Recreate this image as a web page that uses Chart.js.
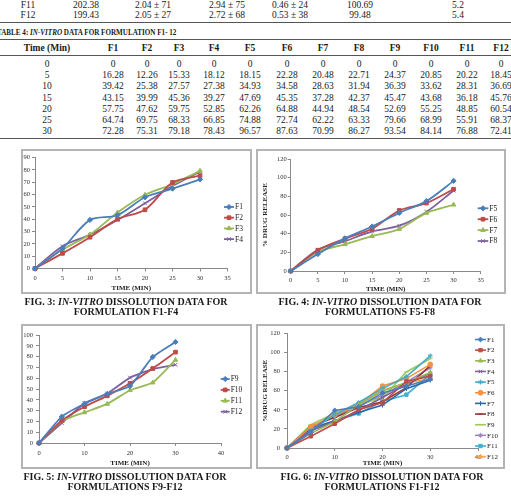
<!DOCTYPE html>
<html><head><meta charset="utf-8">
<script src="https://cdn.jsdelivr.net/npm/chart.js@4/dist/chart.umd.min.js"></script>
<style>
html,body{margin:0;padding:0;background:#fff;width:511px;height:500px;overflow:hidden;}
body{position:relative;font-family:"Liberation Serif","Times New Roman",serif;color:#1a1a1a;}
.t{position:absolute;white-space:nowrap;line-height:10px;height:10px;font-size:9.5px;transform:translateX(-50%);}
.b{font-weight:bold;}
.hl{position:absolute;left:0;width:511px;height:1px;background:#555;}
.frame{position:absolute;border:2px solid #b4b4b4;box-sizing:border-box;pointer-events:none;}
canvas{position:absolute;}
.cap{position:absolute;font-weight:bold;font-size:10px;line-height:10px;white-space:nowrap;transform:translateX(-50%);}
.title{position:absolute;font-weight:bold;font-size:9px;line-height:10px;white-space:nowrap;transform-origin:0 50%;transform:scaleX(0.79);}
</style></head><body>
<script>
// ---------- data ----------
const prevRows = ['F11', 'F12'];
const prevAvgWeight = ['202.38', '199.43'];
const prevThickness = ['2.04 ± 71', '2.05 ± 27'];
const prevHardness = ['2.94 ± 75', '2.72 ± 68'];
const prevFriability = ['0.46 ± 24', '0.53 ± 38'];
const prevContent = ['100.69', '99.48'];
const prevDisint = ['5.2', '5.4'];

const formulations = ['F1','F2','F3','F4','F5','F6','F7','F8','F9','F10','F11','F12'];
const times = [0, 5, 10, 15, 20, 25, 30];
const F1 = [0, 16.28, 39.42, 43.15, 57.75, 64.74, 72.28];
const F2 = [0, 12.26, 25.38, 39.99, 47.62, 69.75, 75.31];
const F3 = [0, 15.33, 27.57, 45.36, 59.75, 68.33, 79.18];
const F4 = [0, 18.12, 27.38, 39.27, 52.85, 66.85, 78.43];
const F5 = [0, 18.15, 34.93, 47.69, 62.26, 74.88, 96.57];
const F6 = [0, 22.28, 34.58, 45.35, 64.88, 72.74, 87.63];
const F7 = [0, 20.48, 28.63, 37.28, 44.94, 62.22, 70.99];
const F8 = [0, 22.71, 31.94, 42.37, 48.54, 63.33, 86.27];
const F9 = [0, 24.37, 36.39, 45.47, 52.69, 79.66, 93.54];
const F10 = [0, 20.85, 33.62, 43.68, 55.25, 68.99, 84.14];
const F11 = [0, 20.22, 28.31, 36.18, 48.85, 55.91, 76.88];
const F12 = [0, 18.45, 36.69, 45.76, 60.54, 68.37, 72.41];
const seriesValues = [F1, F2, F3, F4, F5, F6, F7, F8, F9, F10, F11, F12];

const xTitle = 'TIME (MIN)';
const yTitle2 = '% DRUG RELEASE';
const yTitle4 = '%DRUG RELEASE';
const captions = [
  ['FIG. 3: ', 'IN-VITRO', ' DISSOLUTION DATA FOR', 'FORMULATION F1-F4'],
  ['FIG. 4: ', 'IN-VITRO', ' DISSOLUTION DATA FOR', 'FORMULATIONS F5-F8'],
  ['FIG. 5: ', 'IN-VITRO', ' DISSOLUTION DATA FOR', 'FORMULATIONS F9-F12'],
  ['FIG. 6: ', 'IN-VITRO', ' DISSOLUTION DATA FOR', 'FORMULATIONS F1-F12']
];

// ---------- page text ----------
const body = document.body;
function addText(txt, cx, cy, cls) {
  const s = document.createElement('div');
  s.className = 't ' + (cls || '');
  s.style.left = cx + 'px';
  s.style.top = (cy - 5) + 'px';
  s.textContent = txt;
  body.appendChild(s);
}
function addLine(y) {
  const d = document.createElement('div');
  d.className = 'hl'; d.style.top = y + 'px';
  body.appendChild(d);
}
// previous table tail
const prevCols = [prevRows, prevAvgWeight, prevThickness, prevHardness, prevFriability, prevContent, prevDisint];
const prevX = [28, 86, 153, 227, 290, 360, 458];
const prevY = [4.5, 14.5];
prevCols.forEach((col, c) => col.forEach((v, r) => addText(v, prevX[c], prevY[r])));
addLine(22);

// Table 4 title
const tt = document.createElement('div');
tt.className = 'title';
tt.style.left = '-3px'; tt.style.top = '27px';
tt.innerHTML = 'TABLE 4: <i>IN-VITRO</i> DATA FOR FORMULATION F1- 12';
body.appendChild(tt);
addLine(39);

// header + rows
const colX = [113, 147, 179, 214, 250, 287, 323, 359, 395, 431, 467, 501];
const timeX = 47;
addText('Time (Min)', timeX, 48, 'b');
formulations.forEach((f, i) => addText(f, colX[i], 48, 'b'));
addLine(55);
times.forEach((t, r) => {
  const y = 64 + r * 11.2;
  addText(String(t), timeX, y);
  seriesValues.forEach((vals, i) => addText(vals[r] === 0 ? '0' : vals[r].toFixed(2), colX[i], y));
});
addLine(138);

// ---------- charts ----------
Chart.defaults.font.family = '"Liberation Serif","Times New Roman",serif';
Chart.defaults.color = '#333';

const colors4 = ['#4A7EBB','#BE4B48','#98B954','#7D60A0'];
const colors12 = ['#4A7EBB','#BE4B48','#98B954','#7D60A0','#46AAC5','#F69240','#2F66A8','#943634','#9DCB5C','#9C86C0','#3FB0D0','#F7A354'];
const styles4 = ['rectRot','rect','triangle','crossRot'];
const styles12 = ['rectRot','rect','triangle','crossRot','star','circle','cross','line','line','star','rect','triangle'];

const legendPlugin = {
  id: 'xlLegend',
  afterDraw(chart, args, o) {
    const ctx = chart.ctx;
    ctx.save();
    chart.data.datasets.forEach((ds, i) => {
      const y = o.y0 + i * o.dy;
      ctx.strokeStyle = ds.borderColor;
      ctx.lineWidth = ds.borderWidth;
      ctx.beginPath(); ctx.moveTo(o.x0, y); ctx.lineTo(o.x0 + o.len, y); ctx.stroke();
      ctx.fillStyle = ds.pointBackgroundColor;
      ctx.strokeStyle = ds.pointBorderColor;
      ctx.lineWidth = 1;
      Chart.helpers.drawPoint(ctx, {pointStyle: ds.pointStyle, radius: ds.pointRadius, rotation: 0, borderWidth: 1}, o.x0 + o.len / 2, y);
      ctx.fillStyle = '#1a1a1a';
      ctx.font = o.font;
      ctx.textBaseline = 'middle';
      ctx.textAlign = 'left';
      ctx.fillText(ds.label, o.x0 + o.len + 1, y + 0.5);
    });
    ctx.restore();
  }
};

function makeChart(cfg) {
  const {box, area} = cfg;
  const cv = document.createElement('canvas');
  cv.width = box.w; cv.height = box.h;
  cv.style.left = box.x + 'px'; cv.style.top = box.y + 'px';
  cv.style.width = box.w + 'px'; cv.style.height = box.h + 'px';
  body.appendChild(cv);
  const fr = document.createElement('div');
  fr.className = 'frame';
  fr.style.left = box.x + 'px'; fr.style.top = box.y + 'px';
  fr.style.width = box.w + 'px'; fr.style.height = box.h + 'px';
  body.appendChild(fr);

  const datasets = cfg.series.map((idx, k) => ({
    label: formulations[idx],
    data: times.map((t, i) => ({x: t, y: seriesValues[idx][i]})),
    borderColor: cfg.colors[k],
    backgroundColor: cfg.colors[k],
    pointBackgroundColor: cfg.colors[k],
    pointBorderColor: cfg.colors[k],
    pointStyle: cfg.styles[k],
    pointRadius: cfg.radius,
    pointBorderWidth: 1,
    borderWidth: cfg.lw,
    tension: cfg.tension,
    clip: false
  }));
  const axisGrid = {display: true, drawOnChartArea: false, drawTicks: true, tickLength: 3, color: '#8a8a8a'};
  const axisBorder = {display: true, color: '#8a8a8a', width: 1};
  new Chart(cv, {
    type: 'line',
    data: {datasets},
    plugins: [legendPlugin],
    options: {
      responsive: false,
      animation: false,
      devicePixelRatio: 1,
      layout: {padding: {left: 0, top: area.t, right: box.w - area.r, bottom: 0}},
      plugins: {
        legend: {display: false},
        tooltip: {enabled: false},
        xlLegend: cfg.legend
      },
      scales: {
        x: {
          type: 'linear', min: 0, max: cfg.xMax,
          ticks: {stepSize: cfg.xStep, autoSkip: false, maxRotation: 0, padding: cfg.xPad, font: {size: cfg.tickSize}, color: '#333'},
          grid: axisGrid, border: axisBorder,
          title: {display: true, text: xTitle, font: {size: 7, weight: 'bold'}, color: '#222', padding: {top: 0, bottom: cfg.xTitlePad}},
          afterFit: s => { s.height = box.h - area.b; }
        },
        y: {
          type: 'linear', min: 0, max: cfg.yMax,
          ticks: {stepSize: cfg.yStep, padding: cfg.yPad, font: {size: cfg.tickSize}, color: '#333'},
          grid: axisGrid, border: axisBorder,
          title: cfg.yTitle ? {display: true, text: cfg.yTitle, font: {size: 7, weight: 'bold'}, color: '#222', padding: {top: cfg.yTitlePad, bottom: 0}} : {display: false},
          afterFit: s => { s.width = area.l; }
        }
      }
    }
  });
}

function addCaption(c, cx, y) {
  const a = document.createElement('div');
  a.className = 'cap'; a.style.left = cx + 'px'; a.style.top = (y - 5) + 'px';
  a.innerHTML = c[0] + '<i>' + c[1] + '</i>' + c[2];
  body.appendChild(a);
  const b = document.createElement('div');
  b.className = 'cap'; b.style.left = cx + 'px'; b.style.top = (y + 5) + 'px';
  b.textContent = c[3];
  body.appendChild(b);
}

makeChart({
  box: {x: 21, y: 149, w: 231, h: 145}, area: {l: 14, t: 8.5, r: 206.5, b: 119.5},
  series: [0,1,2,3], colors: colors4, styles: styles4, radius: 2.6, lw: 1.8, tension: 0.3,
  xMax: 35, xStep: 5, yMax: 90, yStep: 10, tickSize: 6.5, xPad: 3, yPad: 2, xTitlePad: 1.8,
  legend: {x0: 203, y0: 58, dy: 10.7, len: 10, font: '7.5px "Liberation Serif"'}
});
makeChart({
  box: {x: 256, y: 149, w: 250, h: 145}, area: {l: 34.7, t: 10, r: 224.7, b: 122},
  series: [4,5,6,7], colors: colors4, styles: styles4, radius: 2.6, lw: 1.8, tension: 0.3,
  xMax: 35, xStep: 5, yMax: 120, yStep: 20, tickSize: 6.5, xPad: 2, yPad: 1, xTitlePad: 1,
  yTitle: yTitle2, yTitlePad: 4.8,
  legend: {x0: 221.7, y0: 59.3, dy: 10.9, len: 10.6, font: '7.5px "Liberation Serif"'}
});
makeChart({
  box: {x: 21, y: 324, w: 231, h: 145}, area: {l: 18, t: 11, r: 200, b: 119},
  series: [8,9,10,11], colors: colors4, styles: styles4, radius: 2.6, lw: 1.8, tension: 0.15,
  xMax: 40, xStep: 10, yMax: 100, yStep: 10, tickSize: 6.5, xPad: 3, yPad: 3, xTitlePad: 1.8,
  legend: {x0: 199.7, y0: 55, dy: 10.9, len: 9, font: '7.5px "Liberation Serif"'}
});
makeChart({
  box: {x: 256, y: 324, w: 249, h: 145}, area: {l: 31, t: 9.5, r: 222, b: 124},
  series: [0,1,2,3,4,5,6,7,8,9,10,11], colors: colors12, styles: styles12, radius: 2.4, lw: 1.6, tension: 0,
  xMax: 40, xStep: 10, yMax: 120, yStep: 20, tickSize: 6.5, xPad: 2, yPad: 4, xTitlePad: 1.5,
  yTitle: yTitle4, yTitlePad: 4.8,
  legend: {x0: 219, y0: 15.5, dy: 10.65, len: 11, font: '7px "Liberation Serif"'}
});

addCaption(captions[0], 126, 302);
addCaption(captions[1], 380, 302);
addCaption(captions[2], 125, 477);
addCaption(captions[3], 382, 477);
</script>
</body></html>
